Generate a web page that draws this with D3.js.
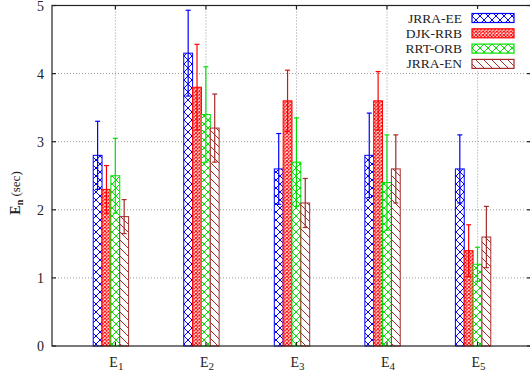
<!DOCTYPE html>
<html>
<head>
<meta charset="utf-8">
<script src="https://cdn.jsdelivr.net/npm/d3@7"></script>
<style>
  body { margin: 0; background: #fff; }
  text { font-family: "Liberation Serif", "DejaVu Serif", serif; fill: #222; }
</style>
</head>
<body>
<div id="chart"></div>
<script>
const width = 530, height = 374;

// data
const categories = ["1", "2", "3", "4", "5"];   // E with subscript
const seriesNames = ["JRRA-EE", "DJK-RRB", "RRT-ORB", "JRRA-EN"];
const jrraEE = [2.8, 4.3, 2.6, 2.8, 2.6];
const djkRRB = [2.3, 3.8, 3.6, 3.6, 1.4];
const rrtORB = [2.5, 3.4, 2.7, 2.4, 1.2];
const jrraEN = [1.9, 3.2, 2.1, 2.6, 1.6];
const jrraEEErr = [0.5, 0.63, 0.52, 0.62, 0.5];
const djkRRBErr = [0.35, 0.63, 0.45, 0.43, 0.38];
const rrtORBErr = [0.55, 0.7, 0.65, 0.7, 0.25];
const jrraENErr = [0.25, 0.5, 0.36, 0.5, 0.45];
const yTicks = [0, 1, 2, 3, 4, 5];

const values = [jrraEE, djkRRB, rrtORB, jrraEN];
const errors = [jrraEEErr, djkRRBErr, rrtORBErr, jrraENErr];
const colors = ["#0000ff", "#ff0000", "#00e000", "#a52a2a"];
const patIds = ["patX", "patDense", "patXg", "patDiag"];

const plotL = 52, plotR = 531, plotT = 5.5, plotB = 346;

const x = d3.scaleLinear().domain([-0.7, 4.59]).range([plotL, plotR]);
const y = d3.scaleLinear().domain([0, 5]).range([plotB, plotT]);
const barW = 0.0977;
const barStart = i => -0.245 + i * barW;

const svg = d3.select("#chart").append("svg")
  .attr("width", width).attr("height", height);

// fill patterns
const defs = svg.append("defs");
function crossPat(id, color, size) {
  const p = defs.append("pattern").attr("id", id)
    .attr("patternUnits", "userSpaceOnUse").attr("width", size).attr("height", size);
  p.append("rect").attr("width", size).attr("height", size).attr("fill", "#fff");
  p.append("path").attr("d", `M0,0L${size},${size}M${size},0L0,${size}`)
    .attr("stroke", color).attr("stroke-width", 1);
}
crossPat("patX", colors[0], 8);
crossPat("patDense", colors[1], 3.5);
crossPat("patXg", colors[2], 8);
const pd = defs.append("pattern").attr("id", "patDiag")
  .attr("patternUnits", "userSpaceOnUse").attr("width", 8).attr("height", 8);
pd.append("rect").attr("width", 8).attr("height", 8).attr("fill", "#fff");
pd.append("path").attr("d", "M-2,-2L10,10M-2,6L2,10M6,-2L10,2")
  .attr("stroke", colors[3]).attr("stroke-width", 1);

// grid
const grid = svg.append("g").attr("stroke", "#9a9a9a").attr("stroke-dasharray", "1,2");
grid.selectAll("line.h").data(yTicks.slice(1, -1)).enter().append("line")
  .attr("x1", plotL).attr("x2", plotR).attr("y1", d => y(d)).attr("y2", d => y(d));
grid.selectAll("line.v").data(categories).enter().append("line")
  .attr("x1", (d, i) => x(i)).attr("x2", (d, i) => x(i)).attr("y1", plotT).attr("y2", plotB);

// bars
values.forEach((vals, s) => {
  const g = svg.append("g");
  g.selectAll("rect").data(vals).enter().append("rect")
    .attr("x", (d, i) => x(i + barStart(s)))
    .attr("width", x(barW) - x(0))
    .attr("y", d => y(d))
    .attr("height", d => y(0) - y(d))
    .attr("fill", `url(#${patIds[s]})`)
    .attr("stroke", colors[s]).attr("stroke-width", 1);
  const eb = g.selectAll("g.err").data(vals).enter().append("g")
    .attr("stroke", colors[s]).attr("stroke-width", 1.2);
  const cx = i => x(i + barStart(s) + barW / 2);
  eb.append("line")
    .attr("x1", (d, i) => cx(i)).attr("x2", (d, i) => cx(i))
    .attr("y1", (d, i) => y(d - errors[s][i])).attr("y2", (d, i) => y(d + errors[s][i]));
  eb.append("line")
    .attr("x1", (d, i) => cx(i) - 2.5).attr("x2", (d, i) => cx(i) + 2.5)
    .attr("y1", (d, i) => y(d + errors[s][i])).attr("y2", (d, i) => y(d + errors[s][i]));
  eb.append("line")
    .attr("x1", (d, i) => cx(i) - 2.5).attr("x2", (d, i) => cx(i) + 2.5)
    .attr("y1", (d, i) => y(d - errors[s][i])).attr("y2", (d, i) => y(d - errors[s][i]));
});

// frame and ticks
const frame = svg.append("g").attr("stroke", "#222").attr("stroke-width", 1.2).attr("fill", "none");
frame.append("rect").attr("x", plotL).attr("y", plotT).attr("width", plotR - plotL).attr("height", plotB - plotT);
frame.selectAll("line.yl").data(yTicks).enter().append("line")
  .attr("x1", plotL).attr("x2", plotL + 4).attr("y1", d => y(d)).attr("y2", d => y(d));
frame.selectAll("line.yr").data(yTicks).enter().append("line")
  .attr("x1", plotR - 4).attr("x2", plotR).attr("y1", d => y(d)).attr("y2", d => y(d));
frame.selectAll("line.xt").data(categories).enter().append("line")
  .attr("x1", (d, i) => x(i)).attr("x2", (d, i) => x(i)).attr("y1", plotT).attr("y2", plotT + 4);
frame.selectAll("line.xb").data(categories).enter().append("line")
  .attr("x1", (d, i) => x(i)).attr("x2", (d, i) => x(i)).attr("y1", plotB).attr("y2", plotB - 4);

// tick labels
svg.selectAll("text.yt").data(yTicks).enter().append("text")
  .attr("x", 44).attr("y", d => y(d) + 5)
  .attr("text-anchor", "end").attr("font-size", 14).text(d => d);
const xl = svg.selectAll("text.xt").data(categories).enter().append("text")
  .attr("x", (d, i) => x(i) + 1).attr("y", 367)
  .attr("text-anchor", "middle").attr("font-size", 14);
xl.append("tspan").text("E");
xl.append("tspan").attr("dy", 3).attr("font-size", 11).text(d => d);

// y label
const yl = svg.append("text")
  .attr("transform", "translate(20,193) rotate(-90)")
  .attr("text-anchor", "middle").attr("font-size", 14);
yl.append("tspan").attr("font-weight", "bold").text("E");
yl.append("tspan").attr("font-weight", "bold").attr("font-size", 10).attr("dy", 3).text("n");
yl.append("tspan").attr("font-size", 13).attr("dy", -3).text(" (sec)");

// legend
const leg = svg.append("g");
leg.append("rect").attr("x", 406).attr("y", 9).attr("width", 118).attr("height", 62).attr("fill", "#fff");
const rowY = i => 18 + i * 15.3;
seriesNames.forEach((name, s) => {
  leg.append("text").attr("x", 462).attr("y", rowY(s) + 4.5)
    .attr("text-anchor", "end").attr("font-size", 13.5).text(name);
  leg.append("rect").attr("x", 472).attr("y", rowY(s) - 4.5)
    .attr("width", 42).attr("height", 9)
    .attr("fill", `url(#${patIds[s]})`).attr("stroke", colors[s]).attr("stroke-width", 1.2);
});
</script>
</body>
</html>
